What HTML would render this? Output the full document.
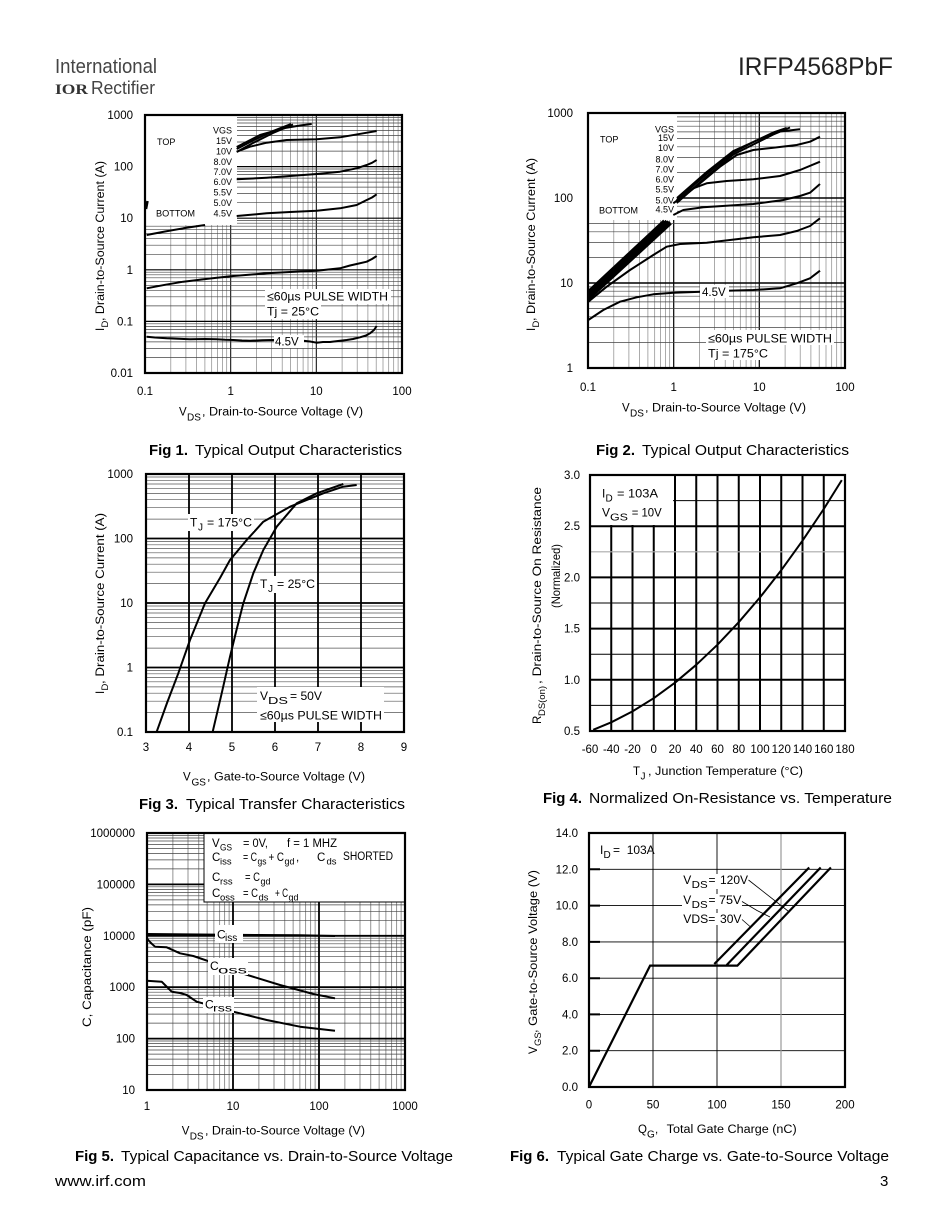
<!DOCTYPE html>
<html><head><meta charset="utf-8"><style>html,body{margin:0;padding:0;background:#fff}svg{display:block}</style></head>
<body>
<svg width="950" height="1230" viewBox="0 0 950 1230" xmlns="http://www.w3.org/2000/svg" font-family="'Liberation Sans', Arial, Helvetica, sans-serif" fill="#000">
<rect width="950" height="1230" fill="#fff"/>

<!-- HEADER -->
<text x="55" y="73" font-size="20" fill="#444" textLength="102" lengthAdjust="spacingAndGlyphs">International</text>
<text x="55" y="94" font-size="15" font-weight="bold" font-family="'Liberation Serif', serif" fill="#333" textLength="33" lengthAdjust="spacingAndGlyphs">IOR</text>
<text x="91" y="94" font-size="18" fill="#444" textLength="64" lengthAdjust="spacingAndGlyphs">Rectifier</text>
<text x="738" y="75" font-size="25" fill="#222" textLength="155" lengthAdjust="spacingAndGlyphs">IRFP4568PbF</text>

<!-- ================= FIG 1 ================= -->
<g>
<path fill="none" stroke="#888" stroke-width="0.7" d="M170.8 115V373M185.9 115V373M196.6 115V373M204.9 115V373M211.7 115V373M217.4 115V373M222.4 115V373M226.7 115V373M256.5 115V373M271.5 115V373M282.2 115V373M290.5 115V373M297.3 115V373M303.1 115V373M308 115V373M312.4 115V373M342.1 115V373M357.2 115V373M367.9 115V373M376.2 115V373M383 115V373M388.7 115V373M393.7 115V373M398.1 115V373"/>
<path fill="none" stroke="#000" stroke-width="1" d="M230.7 115V373M316.3 115V373"/>
<path fill="none" stroke="#444" stroke-width="0.7" d="M145 357.5H402M145 348.4H402M145 341.9H402M145 336.9H402M145 332.9H402M145 329.4H402M145 326.4H402M145 323.8H402M145 305.9H402M145 296.8H402M145 290.3H402M145 285.3H402M145 281.3H402M145 277.8H402M145 274.8H402M145 272.2H402M145 254.3H402M145 245.2H402M145 238.7H402M145 233.7H402M145 229.7H402M145 226.2H402M145 223.2H402M145 220.6H402M145 202.7H402M145 193.6H402M145 187.1H402M145 182.1H402M145 178.1H402M145 174.6H402M145 171.6H402M145 169H402M145 151.1H402M145 142H402M145 135.5H402M145 130.5H402M145 126.5H402M145 123H402M145 120H402M145 117.4H402"/>
<path fill="none" stroke="#000" stroke-width="1.2" d="M145 166.6H402M145 218.2H402M145 269.8H402M145 321.4H402"/>
<rect x="145" y="115" width="92" height="110" fill="#fff"/>
<g fill="none" stroke="#000" stroke-width="2" stroke-linejoin="round">
<polyline points="146.7,336.7 155,337.5 166.7,338.3 178,338.8 190,339.3 205,339 216.7,339.3 225,339.8 233.3,340 242,340.5 250,340.7 262,340.3 273.3,340 290,340.5 303.3,340.7 310,341.5 316.7,342.7 323,342 330,342 338,341 346.7,340 353,339 360,337.3 366,335.5 370,333.3 374,330 376.7,326"/>
<polyline points="146.7,288.3 165,284.8 183.3,281.7 210,278.5 233.3,276 266.7,273.3 290,272 316.7,270.7 340,268.3 350,265.5 356.7,264 366.7,261.7 372,259 376.7,256"/>
<polyline points="146.7,235 165,231.5 183.3,228.3 205,225"/>
<polyline points="236.7,216 266.7,213.3 290,212 316.7,210.7 340,208.3 356.7,205 366.7,200 372,197.5 376.7,194.3"/>
<polyline points="236.7,179.3 266.7,177.7 290,176 316.7,174 340,171.7 356.7,168.3 366.7,165 372,162.8 376.7,160"/>
<polyline points="236.7,151.7 250,146.7 266.7,142.7 286.7,140 316.7,139.3 340,137.3 363.3,133.3 376.7,131"/>
<polyline points="236.7,152 253,143 273,133 293,124.5"/>
<polyline points="236.7,149 253,140.5 273,131 291,124"/>
<polyline points="236.7,147 260,135 285,128 300,125.5 311.7,124"/>
<polyline points="146,209 147.5,201" stroke-width="2.5"/>
</g>
<rect x="274" y="335" width="30" height="13" fill="#fff"/>
<text x="275" y="345.5" font-size="11.5">4.5V</text>
<rect x="265" y="289" width="126" height="15" fill="#fff"/>
<rect x="265" y="304" width="56" height="15" fill="#fff"/>
<text x="267" y="300.7" font-size="12" textLength="121" lengthAdjust="spacingAndGlyphs">≤60µs PULSE WIDTH</text>
<text x="267" y="315.7" font-size="12" textLength="52" lengthAdjust="spacingAndGlyphs">Tj = 25°C</text>
<g font-size="9">
<text x="157" y="145">TOP</text>
<text x="156" y="216.6" textLength="39" lengthAdjust="spacingAndGlyphs">BOTTOM</text>
<g text-anchor="end">
<text x="232" y="133.3">VGS</text><text x="232" y="144">15V</text><text x="232" y="154.3">10V</text><text x="232" y="165">8.0V</text><text x="232" y="175">7.0V</text><text x="232" y="185">6.0V</text><text x="232" y="195.6">5.5V</text><text x="232" y="206">5.0V</text><text x="232" y="216.6">4.5V</text>
</g></g>
<rect x="145" y="115" width="257" height="258" fill="none" stroke="#000" stroke-width="2.2"/>
<g font-size="11.5" text-anchor="end">
<text x="133" y="119">1000</text><text x="133" y="170.6">100</text><text x="133" y="222.2">10</text><text x="133" y="273.8">1</text><text x="133" y="325.4">0.1</text><text x="133" y="377">0.01</text>
</g>
<g font-size="11.5" text-anchor="middle">
<text x="145" y="395">0.1</text><text x="230.7" y="395">1</text><text x="316.3" y="395">10</text><text x="402" y="395">100</text>
</g>
<text x="179" y="415.5" font-size="11.5">V</text>
<text x="187" y="420.5" font-size="10">DS</text>
<text x="202" y="415.5" font-size="11.5" textLength="161" lengthAdjust="spacingAndGlyphs">, Drain-to-Source Voltage (V)</text>
<g transform="rotate(-90)">
<text x="-331" y="104" font-size="11.5">I</text>
<text x="-327.5" y="108" font-size="9.5">D</text>
<text x="-321" y="104" font-size="11.5" textLength="160" lengthAdjust="spacingAndGlyphs">, Drain-to-Source Current (A)</text>
</g>
<text x="149" y="455" font-size="15" font-weight="bold" textLength="39" lengthAdjust="spacingAndGlyphs">Fig 1.</text>
<text x="195" y="455" font-size="15" textLength="207" lengthAdjust="spacingAndGlyphs">Typical Output Characteristics</text>
</g>

<!-- ================= FIG 2 ================= -->
<g>
<path fill="none" stroke="#888" stroke-width="0.7" d="M613.8 113V368M628.9 113V368M639.6 113V368M647.9 113V368M654.7 113V368M660.4 113V368M665.4 113V368M669.7 113V368M699.5 113V368M714.5 113V368M725.2 113V368M733.5 113V368M740.3 113V368M746.1 113V368M751 113V368M755.4 113V368M785.1 113V368M800.2 113V368M810.9 113V368M819.2 113V368M826 113V368M831.7 113V368M836.7 113V368M841.1 113V368"/>
<path fill="none" stroke="#000" stroke-width="1.2" d="M673.7 113V368M759.3 113V368"/>
<path fill="none" stroke="#444" stroke-width="0.7" d="M588 342.4H845M588 327.4H845M588 316.8H845M588 308.6H845M588 301.9H845M588 296.2H845M588 291.2H845M588 286.9H845M588 257.4H845M588 242.4H845M588 231.8H845M588 223.6H845M588 216.9H845M588 211.2H845M588 206.2H845M588 201.9H845M588 172.4H845M588 157.4H845M588 146.8H845M588 138.6H845M588 131.9H845M588 126.2H845M588 121.2H845M588 116.9H845"/>
<path fill="none" stroke="#000" stroke-width="1.4" d="M588 283H845M588 198H845"/>
<rect x="588" y="113" width="89" height="107" fill="#fff"/>
<g fill="none" stroke="#000" stroke-width="2" stroke-linejoin="round">
<polyline points="588.3,320 603.3,310 620,301.7 636.7,297.3 653.3,294.3 673.3,292.7 701.7,291.7 726.7,290.7 753.3,290 780,288.3 796.7,283.3 810,278.3 820,270.7"/>
<polyline points="588.3,301.7 606.7,286.7 630,270 653.3,255 666.7,246.7 680,244 706.7,242.7 753.3,237.3 780,235 796.7,231 810,226 820,218.3"/>
<polyline points="673.3,215 683.3,210 703.3,207.3 753.3,204 783.3,200 800,196 810,192.7 820,184"/>
<polyline points="673.3,203.3 693.3,188.3 706.7,183.3 726.7,181 753.3,179.3 780,176 800,170 820,161.7"/>
<polyline points="676.7,201.7 700,183.3 720,166.7 736.7,155 753.3,150 773.3,147.7 796.7,145 810,141.7 820,136.7"/>
<polyline points="676.7,200 706.7,174 733.3,152.5 753.3,142 773.3,132.5 786.7,128"/>
<polyline points="676.7,203 706.7,176.5 733.3,154.5 753.3,144.5 773.3,134.5 790,127.5"/>
<polyline points="677,198 706.7,172 733.3,151 760,139 780,131.5 800,129.3"/>
</g>
<g fill="none" stroke="#000" stroke-width="2.4">
<polyline points="588,291.5 664,220.5"/>
<polyline points="588,293.8 666.5,220.8"/>
<polyline points="588,296 668.5,221.2"/>
<polyline points="588,298.3 670,222"/>
<polyline points="588,300 671,223.5"/>
</g>
<rect x="700" y="285" width="29" height="13" fill="#fff"/>
<text x="702" y="295.8" font-size="11.5">4.5V</text>
<rect x="706" y="330" width="128" height="15" fill="#fff"/>
<rect x="706" y="345" width="64" height="15" fill="#fff"/>
<text x="708" y="342.3" font-size="12" textLength="124" lengthAdjust="spacingAndGlyphs">≤60µs PULSE WIDTH</text>
<text x="708" y="357.5" font-size="12" textLength="60" lengthAdjust="spacingAndGlyphs">Tj = 175°C</text>
<g font-size="9">
<text x="600" y="142.5">TOP</text>
<text x="599" y="213.3" textLength="39" lengthAdjust="spacingAndGlyphs">BOTTOM</text>
<g text-anchor="end">
<text x="674" y="132.6">VGS</text><text x="674" y="141">15V</text><text x="674" y="151">10V</text><text x="674" y="162.6">8.0V</text><text x="674" y="172.6">7.0V</text><text x="674" y="182.3">6.0V</text><text x="674" y="192.6">5.5V</text><text x="674" y="203.3">5.0V</text><text x="674" y="212.6">4.5V</text>
</g></g>
<rect x="588" y="113" width="257" height="255" fill="none" stroke="#000" stroke-width="2.2"/>
<g font-size="11.5" text-anchor="end">
<text x="573" y="117">1000</text><text x="573" y="202">100</text><text x="573" y="287">10</text><text x="573" y="372">1</text>
</g>
<g font-size="11.5" text-anchor="middle">
<text x="588" y="391">0.1</text><text x="673.7" y="391">1</text><text x="759.3" y="391">10</text><text x="845" y="391">100</text>
</g>
<text x="622" y="411.5" font-size="11.5">V</text>
<text x="630" y="416.5" font-size="10">DS</text>
<text x="645" y="411.5" font-size="11.5" textLength="161" lengthAdjust="spacingAndGlyphs">, Drain-to-Source Voltage (V)</text>
<g transform="rotate(-90)">
<text x="-331" y="535" font-size="11.5">I</text>
<text x="-327.5" y="539" font-size="9.5">D</text>
<text x="-321" y="535" font-size="11.5" textLength="163" lengthAdjust="spacingAndGlyphs">, Drain-to-Source Current (A)</text>
</g>
<text x="596" y="455" font-size="15" font-weight="bold" textLength="39" lengthAdjust="spacingAndGlyphs">Fig 2.</text>
<text x="642" y="455" font-size="15" textLength="207" lengthAdjust="spacingAndGlyphs">Typical Output Characteristics</text>
</g>

<!-- ================= FIG 3 ================= -->
<g>
<path fill="none" stroke="#555" stroke-width="0.7" d="M146 712.6H404M146 701.2H404M146 693.2H404M146 686.9H404M146 681.8H404M146 677.5H404M146 673.8H404M146 670.5H404M146 648.1H404M146 636.7H404M146 628.7H404M146 622.4H404M146 617.3H404M146 613H404M146 609.3H404M146 606H404M146 583.6H404M146 572.2H404M146 564.2H404M146 557.9H404M146 552.8H404M146 548.5H404M146 544.8H404M146 541.5H404M146 519.1H404M146 507.7H404M146 499.7H404M146 493.4H404M146 488.3H404M146 484H404M146 480.3H404M146 477H404"/>
<path fill="none" stroke="#000" stroke-width="1.8" d="M146 667.5H404M146 603H404M146 538.5H404M189 474V732M232 474V732M275 474V732M318 474V732M361 474V732"/>
<g fill="none" stroke="#000" stroke-width="2" stroke-linejoin="round">
<polyline points="156.7,731.7 167,703 178.3,673.3 190,640 205,603.3 220,578 230,560 246.7,540 263.3,521.7 290,506.7 323.3,493.3 343,486.7 356.7,485"/>
<polyline points="212.7,731.7 221.7,693.3 230,656.7 236.5,630 243.3,603.3 253.3,573.3 263.3,550 276.7,526.7 296.7,503.3 316.7,493.3 343.3,484"/>
</g>
<rect x="188" y="514" width="66" height="17" fill="#fff"/>
<text x="190" y="526.5" font-size="12">T</text>
<text x="198" y="530.5" font-size="10">J</text>
<text x="207" y="526.5" font-size="12" textLength="45" lengthAdjust="spacingAndGlyphs">= 175°C</text>
<rect x="258" y="576" width="59" height="17" fill="#fff"/>
<text x="260" y="588" font-size="12">T</text>
<text x="268" y="592" font-size="10">J</text>
<text x="277" y="588" font-size="12" textLength="38" lengthAdjust="spacingAndGlyphs">= 25°C</text>
<rect x="257" y="687" width="127" height="35" fill="#fff"/>
<text x="260" y="700" font-size="12">V</text>
<text x="268" y="704" font-size="10" textLength="20" lengthAdjust="spacingAndGlyphs">DS</text>
<text x="290" y="700" font-size="12" textLength="32" lengthAdjust="spacingAndGlyphs">= 50V</text>
<text x="260" y="719.3" font-size="12" textLength="122" lengthAdjust="spacingAndGlyphs">≤60µs PULSE WIDTH</text>
<rect x="146" y="474" width="258" height="258" fill="none" stroke="#000" stroke-width="2.2"/>
<g font-size="11.5" text-anchor="end">
<text x="133" y="478">1000</text><text x="133" y="542.5">100</text><text x="133" y="607">10</text><text x="133" y="671.5">1</text><text x="133" y="736">0.1</text>
</g>
<g font-size="11.5" text-anchor="middle">
<text x="146" y="751">3</text><text x="189" y="751">4</text><text x="232" y="751">5</text><text x="275" y="751">6</text><text x="318" y="751">7</text><text x="361" y="751">8</text><text x="404" y="751">9</text>
</g>
<text x="183" y="780.5" font-size="11.5">V</text>
<text x="191.5" y="785.5" font-size="10">GS</text>
<text x="207" y="780.5" font-size="11.5" textLength="158" lengthAdjust="spacingAndGlyphs">, Gate-to-Source Voltage (V)</text>
<g transform="rotate(-90)">
<text x="-694" y="104" font-size="11.5">I</text>
<text x="-690.5" y="108" font-size="9.5">D</text>
<text x="-684" y="104" font-size="11.5" textLength="171" lengthAdjust="spacingAndGlyphs">, Drain-to-Source Current  (A)</text>
</g>
<text x="139" y="809" font-size="15" font-weight="bold" textLength="39" lengthAdjust="spacingAndGlyphs">Fig 3.</text>
<text x="186" y="809" font-size="15" textLength="219" lengthAdjust="spacingAndGlyphs">Typical Transfer Characteristics</text>
</g>

<!-- ================= FIG 4 ================= -->
<g>
<path fill="none" stroke="#000" stroke-width="2" d="M611.25 475V731M632.5 475V731M653.75 475V731M675 475V731M696.25 475V731M717.5 475V731M738.75 475V731M760 475V731M781.25 475V731M802.5 475V731M823.75 475V731M590 526.2H845M590 577.4H845M590 628.6H845M590 679.8H845"/>
<path fill="none" stroke="#000" stroke-width="1" d="M590 500.6H845M590 603H845M590 654.2H845M590 705.4H845"/>
<path fill="none" stroke="#aaa" stroke-width="1.2" d="M590 551.8H845"/>
<rect x="590" y="475" width="83" height="50" fill="#fff"/>
<polyline fill="none" stroke="#000" stroke-width="2" stroke-linejoin="round" points="593.2,729.8 611.25,722.3 632.5,711.4 653.75,698.2 675,682.7 696.25,664.8 717.5,644.7 738.75,622.2 760,597.4 781.25,570.2 802.5,540.7 823.75,509 841.8,480.1"/>
<text x="602" y="497.3" font-size="12">I</text>
<text x="605.5" y="501.5" font-size="10">D</text>
<text x="617" y="497.3" font-size="12" textLength="41" lengthAdjust="spacingAndGlyphs">= 103A</text>
<text x="602" y="516.3" font-size="12">V</text>
<text x="610" y="520.5" font-size="10" textLength="18" lengthAdjust="spacingAndGlyphs">GS</text>
<text x="631.7" y="516.3" font-size="12" textLength="30" lengthAdjust="spacingAndGlyphs">= 10V</text>
<rect x="590" y="475" width="255" height="256" fill="none" stroke="#000" stroke-width="2.2"/>
<g font-size="11.5" text-anchor="end">
<text x="580" y="479">3.0</text><text x="580" y="530.2">2.5</text><text x="580" y="581.4">2.0</text><text x="580" y="632.6">1.5</text><text x="580" y="683.8">1.0</text><text x="580" y="735">0.5</text>
</g>
<g font-size="11.5" text-anchor="middle">
<text x="590" y="753">-60</text><text x="611.25" y="753">-40</text><text x="632.5" y="753">-20</text><text x="653.75" y="753">0</text><text x="675" y="753">20</text><text x="696.25" y="753">40</text><text x="717.5" y="753">60</text><text x="738.75" y="753">80</text><text x="760" y="753">100</text><text x="781.25" y="753">120</text><text x="802.5" y="753">140</text><text x="823.75" y="753">160</text><text x="845" y="753">180</text>
</g>
<text x="633" y="775" font-size="11.5">T</text>
<text x="640.5" y="779.5" font-size="10">J</text>
<text x="648" y="775" font-size="11.5" textLength="155" lengthAdjust="spacingAndGlyphs">, Junction Temperature (°C)</text>
<g transform="rotate(-90)">
<text x="-724" y="541" font-size="11.5">R</text>
<text x="-716" y="545" font-size="9.5" textLength="30" lengthAdjust="spacingAndGlyphs">DS(on)</text>
<text x="-684" y="541" font-size="11.5" textLength="197" lengthAdjust="spacingAndGlyphs"> , Drain-to-Source On Resistance</text>
<text x="-576" y="560" font-size="12" text-anchor="middle" textLength="64" lengthAdjust="spacingAndGlyphs">(Normalized)</text>
</g>
<text x="543" y="803" font-size="15" font-weight="bold" textLength="39" lengthAdjust="spacingAndGlyphs">Fig 4.</text>
<text x="589" y="803" font-size="15" textLength="303" lengthAdjust="spacingAndGlyphs">Normalized On-Resistance vs. Temperature</text>
</g>

<!-- ================= FIG 5 ================= -->
<g>
<path fill="none" stroke="#666" stroke-width="0.7" d="M172.9 833V1090M188 833V1090M198.8 833V1090M207.1 833V1090M213.9 833V1090M219.7 833V1090M224.7 833V1090M229.1 833V1090M258.9 833V1090M274 833V1090M284.8 833V1090M293.1 833V1090M299.9 833V1090M305.7 833V1090M310.7 833V1090M315.1 833V1090M344.9 833V1090M360 833V1090M370.8 833V1090M379.1 833V1090M385.9 833V1090M391.7 833V1090M396.7 833V1090M401.1 833V1090"/>
<path fill="none" stroke="#444" stroke-width="0.7" d="M147 1074.5H405M147 1065.5H405M147 1059.1H405M147 1054.1H405M147 1050H405M147 1046.6H405M147 1043.6H405M147 1041H405M147 1023.1H405M147 1014.1H405M147 1007.7H405M147 1002.7H405M147 998.6H405M147 995.2H405M147 992.2H405M147 989.6H405M147 971.7H405M147 962.7H405M147 956.3H405M147 951.3H405M147 947.2H405M147 943.8H405M147 940.8H405M147 938.2H405M147 920.3H405M147 911.3H405M147 904.9H405M147 899.9H405M147 895.8H405M147 892.4H405M147 889.4H405M147 886.8H405M147 868.9H405M147 859.9H405M147 853.5H405M147 848.5H405M147 844.4H405M147 841H405M147 838H405M147 835.4H405"/>
<path fill="none" stroke="#000" stroke-width="1.8" d="M233 833V1090M319 833V1090M147 1038.6H405M147 987.2H405M147 935.8H405M147 884.4H405"/>
<rect x="204" y="833" width="201" height="69" fill="#fff" stroke="#000" stroke-width="1"/>
<g fill="none" stroke="#000" stroke-width="2" stroke-linejoin="round">
<polyline points="147,934 200,934.5 260,935 300,935.3 335,936"/>
<polyline points="146.7,938.3 151,943 155,946.7 166.7,947.3 180,953.3 193.3,956 210,961.7 236.7,971.7 280,985 313.3,994 335,998.3"/>
<polyline points="146.7,980.7 161.7,981.7 166,986 171.7,991.7 180,993 186.7,995 196.7,1001.7 233.3,1011.7 266.7,1020 300,1026.7 335,1030.7"/>
</g>
<rect x="215" y="925" width="28" height="18" fill="#fff"/>
<text x="217" y="938.3" font-size="12">C</text>
<text x="225" y="941" font-size="10">iss</text>
<rect x="208" y="958" width="40" height="17" fill="#fff"/>
<text x="210" y="970" font-size="12">C</text>
<text x="218" y="973.5" font-size="10" textLength="29" lengthAdjust="spacingAndGlyphs">oss</text>
<rect x="203" y="997" width="31" height="16" fill="#fff"/>
<text x="205" y="1008.3" font-size="12">C</text>
<text x="213" y="1011.5" font-size="10" textLength="19" lengthAdjust="spacingAndGlyphs">rss</text>
<g font-size="11.5">
<text x="212" y="847">V</text><text x="220" y="850.5" font-size="9.5" textLength="12" lengthAdjust="spacingAndGlyphs">GS</text><text x="243" y="847" textLength="25" lengthAdjust="spacingAndGlyphs">= 0V,</text><text x="287" y="847" textLength="50" lengthAdjust="spacingAndGlyphs">f = 1 MHZ</text>
<text x="212" y="861">C</text><text x="220" y="864.5" font-size="9.5">iss</text><text x="243" y="861" textLength="14" lengthAdjust="spacingAndGlyphs">= C</text><text x="257.5" y="864.5" font-size="9.5" textLength="9" lengthAdjust="spacingAndGlyphs">gs</text><text x="268.5" y="861" textLength="15.5" lengthAdjust="spacingAndGlyphs">+ C</text><text x="284.5" y="864.5" font-size="9.5" textLength="10" lengthAdjust="spacingAndGlyphs">gd</text><text x="296" y="861">,</text><text x="317" y="861">C</text><text x="326.5" y="864.5" font-size="9.5">ds</text><text x="343" y="860" textLength="50" lengthAdjust="spacingAndGlyphs">SHORTED</text>
<text x="212" y="881">C</text><text x="220" y="884.5" font-size="9.5">rss</text><text x="245" y="881" textLength="15" lengthAdjust="spacingAndGlyphs">= C</text><text x="260.5" y="884.5" font-size="9.5" textLength="10" lengthAdjust="spacingAndGlyphs">gd</text>
<text x="212" y="897">C</text><text x="220" y="900.5" font-size="9.5">oss</text><text x="243" y="897" textLength="15" lengthAdjust="spacingAndGlyphs">= C</text><text x="258.5" y="900.5" font-size="9.5" textLength="10" lengthAdjust="spacingAndGlyphs">ds</text><text x="275" y="897" textLength="13" lengthAdjust="spacingAndGlyphs">+ C</text><text x="288.5" y="900.5" font-size="9.5" textLength="10" lengthAdjust="spacingAndGlyphs">gd</text>
</g>
<rect x="147" y="833" width="258" height="257" fill="none" stroke="#000" stroke-width="2.2"/>
<g font-size="11.5" text-anchor="end">
<text x="135" y="837">1000000</text><text x="135" y="888.4">100000</text><text x="135" y="939.8">10000</text><text x="135" y="991.2">1000</text><text x="135" y="1042.6">100</text><text x="135" y="1094">10</text>
</g>
<g font-size="11.5" text-anchor="middle">
<text x="147" y="1110">1</text><text x="233" y="1110">10</text><text x="319" y="1110">100</text><text x="405" y="1110">1000</text>
</g>
<text x="181.7" y="1134.5" font-size="11.5">V</text>
<text x="189.7" y="1139.5" font-size="10">DS</text>
<text x="205" y="1134.5" font-size="11.5" textLength="160" lengthAdjust="spacingAndGlyphs">, Drain-to-Source Voltage (V)</text>
<g transform="rotate(-90)">
<text x="-1027" y="91" font-size="11.5" textLength="120" lengthAdjust="spacingAndGlyphs">C, Capacitance (pF)</text>
</g>
<text x="75" y="1161" font-size="15" font-weight="bold" textLength="39" lengthAdjust="spacingAndGlyphs">Fig 5.</text>
<text x="121" y="1161" font-size="15" textLength="332" lengthAdjust="spacingAndGlyphs">Typical Capacitance vs. Drain-to-Source Voltage</text>
</g>

<!-- ================= FIG 6 ================= -->
<g>
<path fill="none" stroke="#000" stroke-width="0.9" d="M589 1050.7H845M589 1014.4H845M589 978.2H845M589 941.9H845M589 905.6H845M589 869.3H845M653 833V1087M717 833V1087"/>
<path fill="none" stroke="#999" stroke-width="1.2" d="M781 833V1087"/>
<path fill="none" stroke="#000" stroke-width="2" d="M589 1050.7h11M589 1014.4h11M589 978.2h11M589 941.9h11M589 905.6h11M589 869.3h11"/>
<rect x="682" y="874" width="67" height="15" fill="#fff"/>
<rect x="682" y="894" width="60" height="15" fill="#fff"/>
<rect x="682" y="913" width="60" height="12" fill="#fff"/>
<g fill="none" stroke="#000" stroke-width="2.2" stroke-linejoin="miter">
<polyline points="589,1087 650.1,965.6 737.4,965.6 830.9,867.5"/>
<polyline points="726.7,965 820.7,867.5"/>
<polyline points="714.3,964 809.2,867.5"/>
</g>
<path fill="none" stroke="#000" stroke-width="0.8" d="M748.5 880L788 911M742 901.5L757 910.5L770 917M742 919.5L750 926.5"/>
<text x="600" y="854" font-size="12">I</text>
<text x="603.5" y="858" font-size="10">D</text>
<text x="613" y="854" font-size="12">=</text>
<text x="626.7" y="854" font-size="12" textLength="28" lengthAdjust="spacingAndGlyphs">103A</text>
<text x="683.3" y="884" font-size="12">V</text>
<text x="691.7" y="888" font-size="10" textLength="16" lengthAdjust="spacingAndGlyphs">DS</text>
<text x="708.5" y="884" font-size="12">=</text>
<text x="720" y="884" font-size="12" textLength="28" lengthAdjust="spacingAndGlyphs">120V</text>
<text x="683.3" y="904" font-size="12">V</text>
<text x="691.7" y="908" font-size="10" textLength="16" lengthAdjust="spacingAndGlyphs">DS</text>
<text x="708.5" y="904" font-size="12">=</text>
<text x="719" y="904" font-size="12" textLength="22.5" lengthAdjust="spacingAndGlyphs">75V</text>
<text x="683.3" y="923" font-size="12" textLength="32" lengthAdjust="spacingAndGlyphs">VDS=</text>
<text x="720" y="923" font-size="12" textLength="21.5" lengthAdjust="spacingAndGlyphs">30V</text>
<rect x="589" y="833" width="256" height="254" fill="none" stroke="#000" stroke-width="2.2"/>
<g font-size="11.5" text-anchor="end">
<text x="578" y="837">14.0</text><text x="578" y="873.3">12.0</text><text x="578" y="909.6">10.0</text><text x="578" y="945.9">8.0</text><text x="578" y="982.2">6.0</text><text x="578" y="1018.4">4.0</text><text x="578" y="1054.7">2.0</text><text x="578" y="1091">0.0</text>
</g>
<g font-size="11.5" text-anchor="middle">
<text x="589" y="1108.3">0</text><text x="653" y="1108.3">50</text><text x="717" y="1108.3">100</text><text x="781" y="1108.3">150</text><text x="845" y="1108.3">200</text>
</g>
<text x="638" y="1133" font-size="11.5">Q</text>
<text x="647" y="1137.5" font-size="10">G</text>
<text x="655" y="1133" font-size="11.5">,</text>
<text x="666.7" y="1133" font-size="11.5" textLength="130" lengthAdjust="spacingAndGlyphs">Total Gate Charge (nC)</text>
<g transform="rotate(-90)">
<text x="-1054" y="537" font-size="11.5">V</text>
<text x="-1046" y="541" font-size="9.5">GS</text>
<text x="-1033" y="537" font-size="11.5" textLength="163" lengthAdjust="spacingAndGlyphs">, Gate-to-Source Voltage (V)</text>
</g>
<text x="510" y="1161" font-size="15" font-weight="bold" textLength="39" lengthAdjust="spacingAndGlyphs">Fig 6.</text>
<text x="557" y="1161" font-size="15" textLength="332" lengthAdjust="spacingAndGlyphs">Typical Gate Charge vs. Gate-to-Source Voltage</text>
</g>

<!-- FOOTER -->
<text x="55" y="1186" font-size="15" textLength="91" lengthAdjust="spacingAndGlyphs">www.irf.com</text>
<text x="880" y="1186" font-size="15">3</text>
</svg>
</body></html>
